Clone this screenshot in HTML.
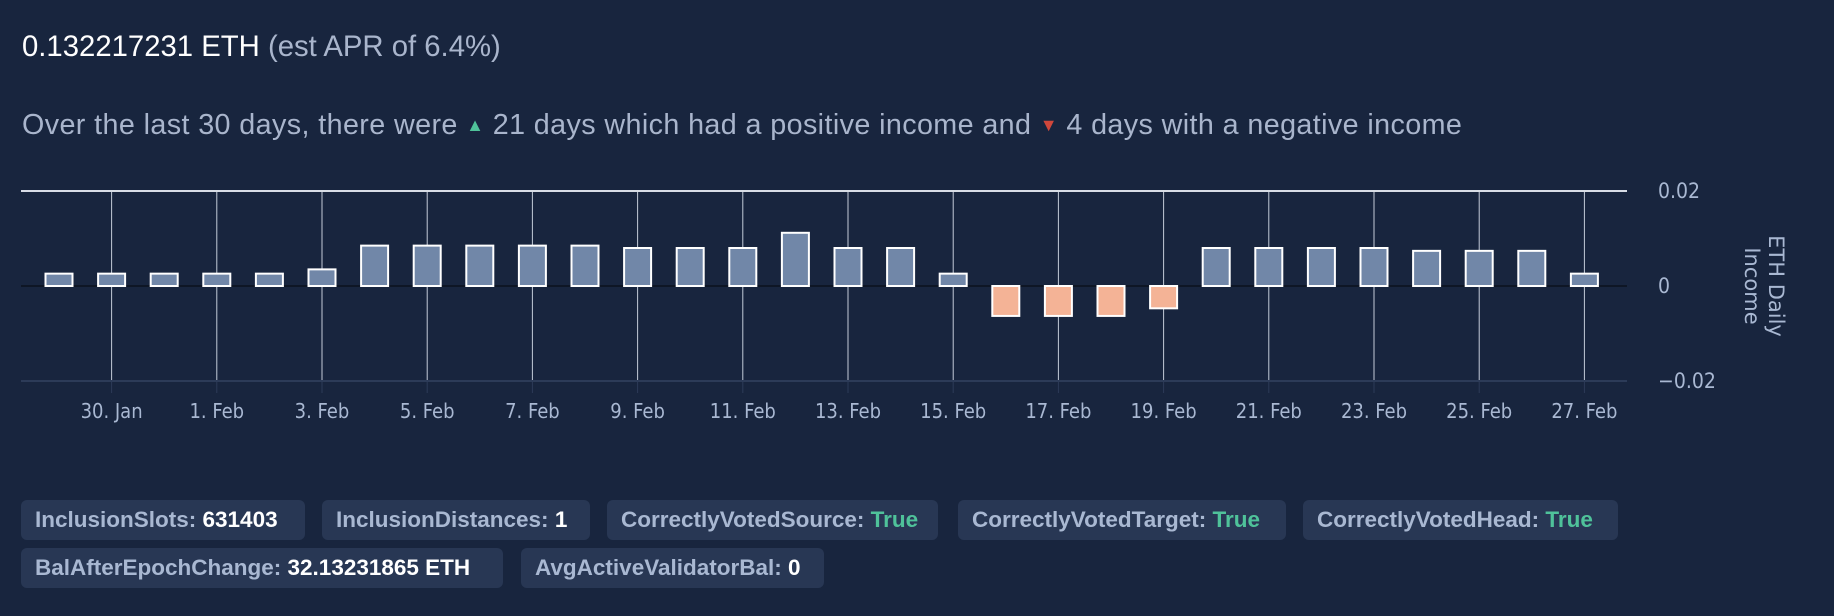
<!DOCTYPE html>
<html><head><meta charset="utf-8"><style>
body{margin:0;width:1834px;height:616px;background:#18253e;overflow:hidden;font-family:"Liberation Sans",sans-serif;position:relative}
.t1{position:absolute;left:22px;top:30px;font-size:29.3px;color:#fff;white-space:nowrap}
.t1 span{color:#a9b5cc}
.t2{position:absolute;left:22px;top:109px;font-size:28.7px;color:#a9b5cc;white-space:nowrap;letter-spacing:0.4px}
.up{color:#4fc29a;font-size:18px;vertical-align:3px}
.dn{color:#d0473b;font-size:18px;vertical-align:3px}
.b{position:absolute;height:40px;line-height:40px;background:#283754;border-radius:6px;color:#a9b8d2;font-size:22.5px;font-weight:bold;padding-left:14px;box-sizing:border-box;white-space:nowrap;overflow:hidden}
.b b{color:#fff}.b i{font-style:normal;color:#4fc29a}
svg{position:absolute;left:0;top:0}
</style></head><body>
<div class="t1">0.132217231 ETH <span>(est APR of 6.4%)</span></div>
<div class="t2">Over the last 30 days, there were <span class="up">▲</span> 21 days which had a positive income and <span class="dn">▼</span> 4 days with a negative income</div>
<svg id="chart" width="1834" height="616"></svg>
<div class="b" style="left:21px;top:500px;width:284px">InclusionSlots: <b>631403</b></div>
<div class="b" style="left:322px;top:500px;width:268px">InclusionDistances: <b>1</b></div>
<div class="b" style="left:607px;top:500px;width:331px">CorrectlyVotedSource: <i>True</i></div>
<div class="b" style="left:958px;top:500px;width:328px">CorrectlyVotedTarget: <i>True</i></div>
<div class="b" style="left:1303px;top:500px;width:315px">CorrectlyVotedHead: <i>True</i></div>
<div class="b" style="left:21px;top:548px;width:482px">BalAfterEpochChange: <b>32.13231865 ETH</b></div>
<div class="b" style="left:521px;top:548px;width:303px">AvgActiveValidatorBal: <b>0</b></div>
<script>
const days = ["29 Jan","30 Jan","31 Jan","1 Feb","2 Feb","3 Feb","4 Feb","5 Feb","6 Feb","7 Feb","8 Feb","9 Feb","10 Feb","11 Feb","12 Feb","13 Feb","14 Feb","15 Feb","16 Feb","17 Feb","18 Feb","19 Feb","20 Feb","21 Feb","22 Feb","23 Feb","24 Feb","25 Feb","26 Feb","27 Feb"];
const income = [0.0026,0.0026,0.0026,0.0026,0.0026,0.0035,0.0085,0.0085,0.0085,0.0085,0.0085,0.008,0.008,0.008,0.0112,0.008,0.008,0.0026,-0.0063,-0.0063,-0.0063,-0.0047,0.008,0.008,0.008,0.008,0.0074,0.0074,0.0074,0.0026];
const xTickIdx = [1,3,5,7,9,11,13,15,17,19,21,23,25,27,29];
const xTickLabels = ["30. Jan","1. Feb","3. Feb","5. Feb","7. Feb","9. Feb","11. Feb","13. Feb","15. Feb","17. Feb","19. Feb","21. Feb","23. Feb","25. Feb","27. Feb"];
const yTicks = [0.02,0,-0.02];
const yTickLabels = ["0.02","0","−0.02"];

const svg=document.getElementById('chart');const NS='http://www.w3.org/2000/svg';
const L=21,R=1627,T=191,B=381,yMin=-0.02,yMax=0.02;
const x0=111.6-52.6, dx=52.6;
const X=i=>x0+i*dx;
const Y=v=>B-(v-yMin)/(yMax-yMin)*(B-T);
function mk(t,a,p){const e=document.createElementNS(NS,t);for(const k in a)e.setAttribute(k,a[k]);(p||svg).appendChild(e);return e;}
xTickIdx.forEach((idx,k)=>{
  const g=mk('line',{x1:X(idx),x2:X(idx),y1:T,y2:B,stroke:'#c3cbd8','stroke-width':1});
  
  
  const tk=mk('line',{x1:X(idx),x2:X(idx),y1:B,y2:B+12,stroke:'#2c3b58','stroke-width':1});
  
  
  const t=mk('text',{x:X(idx),y:418,'text-anchor':'middle',fill:'#a9b8d2','font-size':'20','font-family':'DejaVu Sans Condensed, DejaVu Sans, sans-serif'});
  t.textContent=xTickLabels[k];
  
  
});
yTicks.forEach((v,k)=>{
  const ln=mk('line',{x1:L,x2:R,y1:Y(v),y2:Y(v),stroke:v>0?'#d8dde6':(v<0?'#2c3b58':'#0b111d'),'stroke-width':v>0?2:(v<0?2:1.5)});
  
  
  const t=mk('text',{x:1658,y:Y(v)+7,fill:'#a9b8d2','font-size':'21','font-family':'DejaVu Sans Condensed, DejaVu Sans, sans-serif'});
  t.textContent=yTickLabels[k];
  
  
});
const bw=27;
income.forEach((v,i)=>{
  const y=Math.min(Y(v),Y(0)),h=Math.abs(Y(v)-Y(0));
  const r=mk('rect',{x:X(i)-bw/2,y:y,width:bw,height:h,fill:v>=0?'#7187a8':'#f4b396',stroke:'#ffffff','stroke-width':2});
  
  
});
const at=mk('text',{transform:'translate(1765,286) rotate(90)','text-anchor':'middle',fill:'#a9b8d2','font-size':'21','font-family':'DejaVu Sans, sans-serif'});


const s1=mk('tspan',{x:0,dy:-4},at);s1.textContent='ETH Daily';
const s2=mk('tspan',{x:0,dy:24},at);s2.textContent='Income';
</script>
</body></html>
